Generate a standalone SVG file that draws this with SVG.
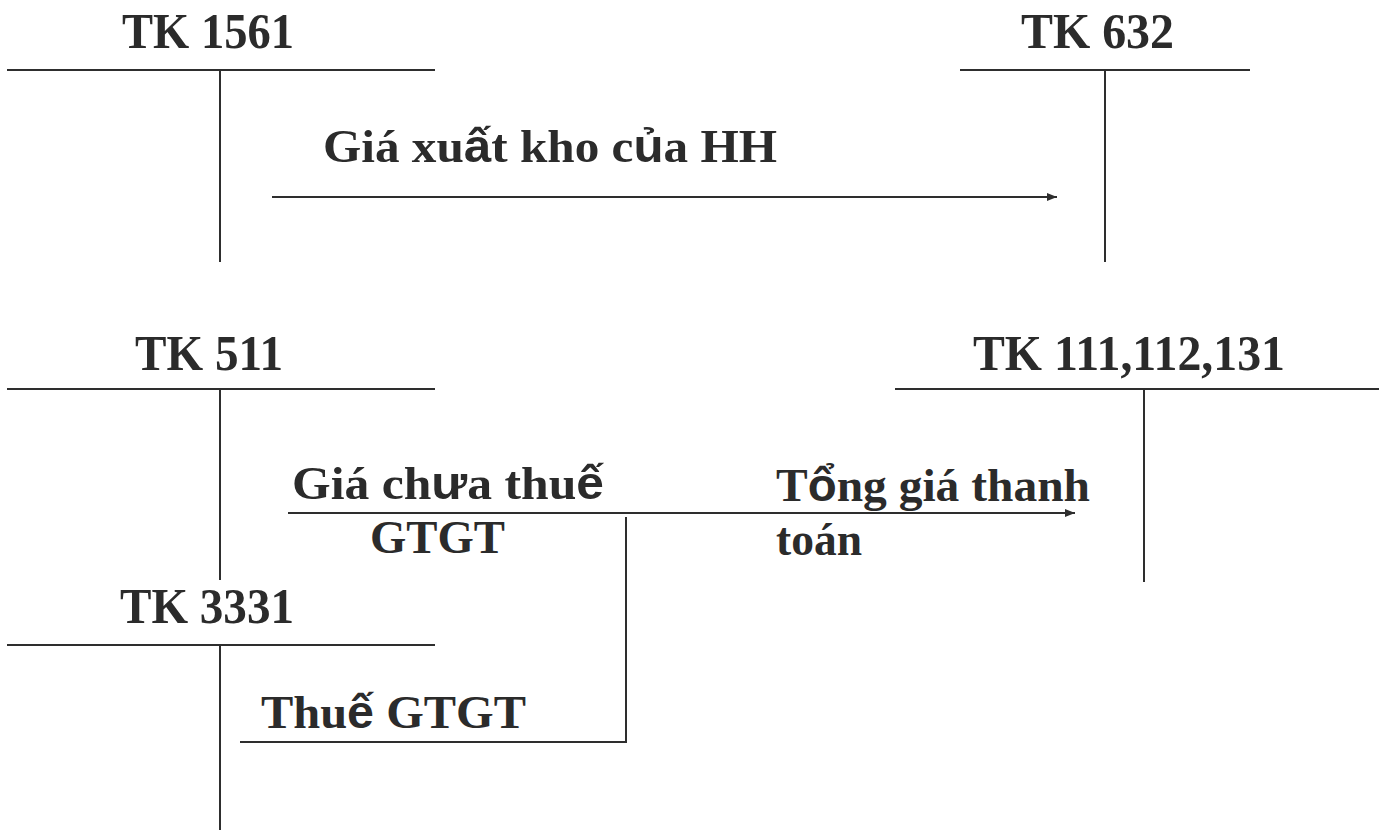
<svg xmlns="http://www.w3.org/2000/svg" width="1379" height="835" viewBox="0 0 1379 835">
  <style>
    .ln { stroke: #2e2e2e; stroke-width: 2; fill: none; }
    .t { font-family: "Liberation Serif", "Times New Roman", serif; font-weight: bold; font-size: 47px; fill: #2b2b2b; }
    .h { font-size: 50px; }
    .s { font-family: "Liberation Sans", Arial, sans-serif; font-weight: bold; }
  </style>
  <defs>
    <marker id="arrow" viewBox="0 0 10 10" refX="10" refY="5" markerWidth="10" markerHeight="10" markerUnits="userSpaceOnUse" orient="auto">
      <path d="M0,1 L10,5 L0,9 Z" fill="#2e2e2e"/>
    </marker>
  </defs>
  <rect width="1379" height="835" fill="#ffffff"/>

  <!-- T-account: TK 1561 -->
  <g id="tk1561">
    <text class="t h" x="122" y="48" textLength="172" lengthAdjust="spacingAndGlyphs">TK 1561</text>
    <line class="ln" x1="7" y1="70" x2="435" y2="70"/>
    <line class="ln" x1="220" y1="70" x2="220" y2="262"/>
  </g>

  <!-- T-account: TK 632 -->
  <g id="tk632">
    <text class="t h" x="1021" y="48" textLength="153" lengthAdjust="spacingAndGlyphs">TK 632</text>
    <line class="ln" x1="960" y1="70" x2="1250" y2="70"/>
    <line class="ln" x1="1105" y1="70" x2="1105" y2="262"/>
  </g>

  <!-- T-account: TK 511 -->
  <g id="tk511">
    <text class="t h" x="135" y="370" textLength="148" lengthAdjust="spacingAndGlyphs">TK 511</text>
    <line class="ln" x1="7" y1="389" x2="435" y2="389"/>
    <line class="ln" x1="220" y1="389" x2="220" y2="580"/>
  </g>

  <!-- T-account: TK 111,112,131 -->
  <g id="tk111">
    <text class="t h" x="973" y="370" textLength="312" lengthAdjust="spacingAndGlyphs">TK 111,112,131</text>
    <line class="ln" x1="895" y1="389" x2="1379" y2="389"/>
    <line class="ln" x1="1144" y1="389" x2="1144" y2="582"/>
  </g>

  <!-- T-account: TK 3331 -->
  <g id="tk3331">
    <text class="t h" x="120" y="623" textLength="174" lengthAdjust="spacingAndGlyphs">TK 3331</text>
    <line class="ln" x1="7" y1="645" x2="435" y2="645"/>
    <line class="ln" x1="220" y1="645" x2="220" y2="830"/>
  </g>

  <!-- Connectors -->
  <g id="connectors">
    <line class="ln" x1="272" y1="197" x2="1057" y2="197" marker-end="url(#arrow)"/>
    <line class="ln" x1="288" y1="513" x2="1075" y2="513" marker-end="url(#arrow)"/>
    <polyline class="ln" points="240,742 626,742 626,517"/>
  </g>

  <!-- Entry labels -->
  <g id="labels">
    <text class="t" x="323" y="162" textLength="454" lengthAdjust="spacingAndGlyphs">Giá xu<tspan class="s">ấ</tspan>t kho c<tspan class="s">ủ</tspan>a HH</text>
    <text class="t" x="292" y="499" textLength="312" lengthAdjust="spacingAndGlyphs">Giá ch<tspan class="s">ư</tspan>a thu<tspan class="s">ế</tspan></text>
    <text class="t" x="370" y="553" textLength="135" lengthAdjust="spacingAndGlyphs">GTGT</text>
    <text class="t" x="776" y="501" textLength="314" lengthAdjust="spacingAndGlyphs">T<tspan class="s">ổ</tspan>ng giá thanh</text>
    <text class="t" x="776" y="555" textLength="86" lengthAdjust="spacingAndGlyphs">toán</text>
    <text class="t" x="261" y="728" textLength="265" lengthAdjust="spacingAndGlyphs">Thu<tspan class="s">ế</tspan> GTGT</text>
  </g>
</svg>
